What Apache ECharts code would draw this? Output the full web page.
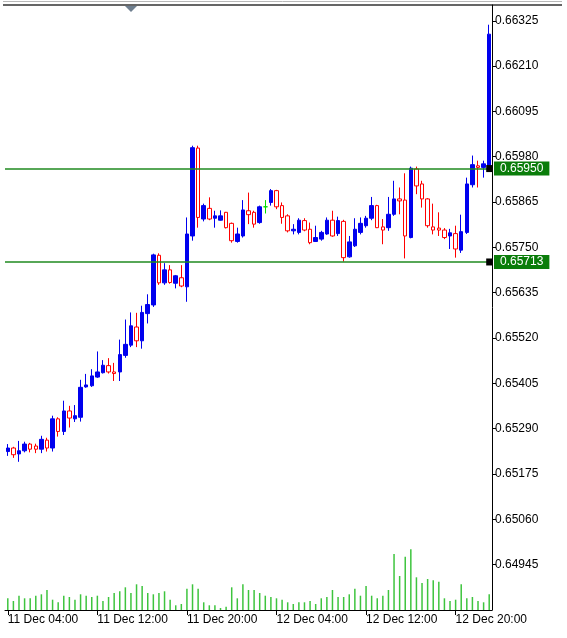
<!DOCTYPE html>
<html>
<head>
<meta charset="utf-8">
<script src="https://cdn.jsdelivr.net/npm/echarts@6/dist/echarts.min.js"></script>
<style>
html,body{margin:0;padding:0;background:#fff;}
#c{width:567px;height:638px;}
</style>
</head>
<body>
<div id="c"></div>
<script>
// 30-minute bars, 11 Dec 04:00 .. 12 Dec 23:00
const startDay = 11, startHour = 4, barCount = 87;
const categories = [];
for (let k = 0; k < barCount; k++) {
  const mins = startHour * 60 + k * 30;
  const d = startDay + Math.floor(mins / 1440);
  const m = mins % 1440;
  const hh = String(Math.floor(m / 60)).padStart(2, '0');
  const mm = String(m % 60).padStart(2, '0');
  categories.push(d + ' Dec ' + hh + ':' + mm);
}

const openP = [
0.65232,0.65241,0.65226,0.65234,0.65251,0.65246,0.65238,0.65261,0.65241,0.65315,
0.65283,0.65335,0.65315,0.65319,0.65396,0.65399,0.65421,0.65432,0.65450,0.65434,
0.65434,0.65476,0.65502,0.65548,0.65513,0.65582,0.65604,0.65730,0.65660,0.65693,
0.65659,0.65673,0.65650,0.65779,0.66002,0.65822,0.65849,0.65824,0.65819,0.65839,
0.65811,0.65765,0.65779,0.65843,0.65839,0.65813,0.65853,0.65864,0.65894,0.65856,
0.65830,0.65792,0.65788,0.65818,0.65796,0.65765,0.65771,0.65784,0.65819,0.65785,
0.65816,0.65726,0.65754,0.65788,0.65805,0.65824,0.65856,0.65802,0.65800,0.65834,
0.65873,0.65870,0.65775,0.65949,0.65911,0.65873,0.65802,0.65799,0.65794,0.65779,
0.65785,0.65743,0.65788,0.65909,0.65957,0.65953,0.65953];
const closeP = [
0.65241,0.65224,0.65234,0.65251,0.65238,0.65238,0.65263,0.65241,0.65315,0.65283,
0.65335,0.65317,0.65323,0.65395,0.65401,0.65424,0.65434,0.65451,0.65434,0.65430,
0.65478,0.65504,0.65551,0.65513,0.65585,0.65605,0.65731,0.65660,0.65693,0.65661,
0.65678,0.65652,0.65784,0.66003,0.65826,0.65856,0.65822,0.65830,0.65830,0.65800,
0.65767,0.65784,0.65845,0.65833,0.65809,0.65853,0.65853,0.65894,0.65853,0.65826,
0.65792,0.65796,0.65819,0.65794,0.65762,0.65775,0.65788,0.65819,0.65779,0.65818,
0.65724,0.65764,0.65796,0.65811,0.65824,0.65856,0.65800,0.65794,0.65834,0.65873,
0.65868,0.65779,0.65951,0.65906,0.65873,0.65805,0.65794,0.65794,0.65775,0.65787,
0.65746,0.65790,0.65911,0.65960,0.65953,0.65962,0.66291];
const lowP = [
0.65221,0.65216,0.65206,0.65230,0.65230,0.65228,0.65228,0.65232,0.65232,0.65270,
0.65274,0.65293,0.65307,0.65308,0.65394,0.65396,0.65419,0.65430,0.65430,0.65411,
0.65411,0.65470,0.65497,0.65497,0.65493,0.65557,0.65599,0.65655,0.65655,0.65658,
0.65646,0.65649,0.65612,0.65767,0.65800,0.65816,0.65819,0.65800,0.65818,0.65798,
0.65762,0.65762,0.65775,0.65809,0.65800,0.65810,0.65836,0.65856,0.65847,0.65810,
0.65788,0.65783,0.65783,0.65791,0.65758,0.65764,0.65767,0.65782,0.65777,0.65779,
0.65714,0.65724,0.65751,0.65783,0.65800,0.65819,0.65799,0.65758,0.65792,0.65830,
0.65834,0.65722,0.65773,0.65885,0.65851,0.65800,0.65783,0.65779,0.65771,0.65746,
0.65724,0.65736,0.65784,0.65902,0.65902,0.65927,0.65949];
const highP = [
0.65251,0.65244,0.65259,0.65257,0.65254,0.65252,0.65272,0.65267,0.65323,0.65319,
0.65361,0.65348,0.65350,0.65414,0.65429,0.65441,0.65486,0.65464,0.65469,0.65457,
0.65516,0.65567,0.65585,0.65584,0.65602,0.65631,0.65734,0.65735,0.65710,0.65705,
0.65680,0.65705,0.65826,0.66008,0.66008,0.65861,0.65877,0.65843,0.65844,0.65840,
0.65813,0.65800,0.65870,0.65889,0.65843,0.65856,0.65870,0.65898,0.65896,0.65864,
0.65834,0.65809,0.65824,0.65824,0.65813,0.65805,0.65792,0.65826,0.65843,0.65828,
0.65820,0.65779,0.65824,0.65826,0.65830,0.65878,0.65858,0.65822,0.65878,0.65919,
0.65902,0.65938,0.65955,0.65955,0.65919,0.65875,0.65861,0.65839,0.65799,0.65797,
0.65805,0.65833,0.65927,0.65983,0.65970,0.65970,0.66315];
const volumes = [
351,270,429,351,351,429,471,600,309,231,
429,390,309,471,429,390,429,270,390,510,
561,681,510,771,720,510,471,510,561,309,
141,180,639,771,639,231,141,141,60,99,
681,351,771,600,600,510,429,390,351,309,
231,180,231,231,270,180,351,390,600,390,
390,471,639,429,720,429,351,429,600,1680,
1020,1599,1821,981,810,930,891,849,351,270,
309,771,351,390,270,231,471];
const priceTicks = [0.64945,0.65060,0.65175,0.65290,0.65405,0.65520,0.65635,0.65750,0.65865,0.65980,0.66095,0.66210,0.66325];
const levels = [0.65950, 0.65713];
const priceMin = 0.64830, priceMax = 0.66365;
const volMax = 18150;

const candleData = openP.map((o, k) => [o, closeP[k], lowP[k], highP[k]]);
const lastCat = categories[categories.length - 1];
const FONT = 'Liberation Sans';

const chart = echarts.init(document.getElementById('c'), null, {renderer: 'canvas'});
chart.setOption({
  animation: false,
  backgroundColor: '#ffffff',
  grid: {left: 5, right: 75, top: 5, bottom: 28, containLabel: false, outerBoundsMode: 'none'},
  xAxis: {
    type: 'category',
    data: categories,
    boundaryGap: true,
    axisLine: {show: true, lineStyle: {color: '#000', width: 1}},
    axisTick: {show: true, interval: 15, alignWithLabel: true, length: 5, lineStyle: {color: '#000'}},
    axisLabel: {interval: 15, align: 'left', margin: 4, color: '#000', fontFamily: FONT, fontSize: 12, hideOverlap: false},
    splitLine: {show: false}
  },
  yAxis: [{
    type: 'value',
    position: 'right',
    min: priceMin,
    max: priceMax,
    scale: true,
    axisLine: {show: true, lineStyle: {color: '#000', width: 1}},
    axisTick: {show: true, length: 4, inside: false, customValues: priceTicks, lineStyle: {color: '#000'}},
    axisLabel: {customValues: priceTicks, margin: 3, color: '#000', fontFamily: FONT, fontSize: 12,
      formatter: v => Number(v).toFixed(5)},
    splitLine: {show: false}
  }, {
    type: 'value',
    min: 0,
    max: volMax,
    show: false,
    splitLine: {show: false}
  }],
  graphic: [
    {type: 'line', shape: {x1: 3, y1: 1.5, x2: 562, y2: 1.5}, style: {stroke: '#b8b8b8', lineWidth: 1}, silent: true},
    {type: 'line', shape: {x1: 3, y1: 5, x2: 562, y2: 5}, style: {stroke: '#333', lineWidth: 1.5}, silent: true},
    {type: 'polygon', shape: {points: [[125, 6], [137, 6], [131, 12]]}, style: {fill: '#6f7f8f'}, silent: true}
  ],
  series: [{
    type: 'bar',
    name: 'Volume',
    xAxisIndex: 0,
    yAxisIndex: 1,
    data: volumes,
    barWidth: 1.5,
    itemStyle: {color: '#3ec43e'},
    silent: true,
    z: 1
  }, {
    type: 'candlestick',
    name: 'Price',
    xAxisIndex: 0,
    yAxisIndex: 0,
    data: candleData,
    barWidth: 4,
    itemStyle: {
      color: '#0000ee',
      color0: '#ffffff',
      borderColor: '#0000ee',
      borderColor0: '#ff0000',
      borderColorDoji: '#00dd00',
      borderWidth: 1
    },
    z: 3,
    markLine: {
      silent: true,
      symbol: 'none',
      precision: 5,
      lineStyle: {color: '#1f8a1f', width: 1.5, type: 'solid'},
      label: {
        show: true, position: 'end', distance: 2,
        formatter: p => Number(p.value).toFixed(5),
        color: '#fff', backgroundColor: '#0a7d0a',
        fontFamily: FONT, fontSize: 12, padding: [1, 6, 1, 6]
      },
      data: levels.map(v => ({yAxis: v}))
    },
    markPoint: {
      silent: true,
      symbol: 'rect',
      symbolSize: [6, 7],
      itemStyle: {color: '#000'},
      label: {show: false},
      data: levels.map(v => ({coord: [lastCat, v]}))
    }
  }]
});
</script>
</body>
</html>
